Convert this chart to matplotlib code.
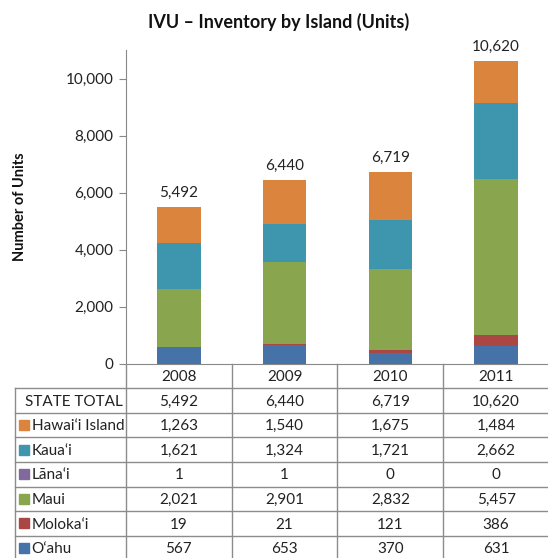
import matplotlib
matplotlib.use("Agg")
import matplotlib.pyplot as plt

plt.rcParams['font.family'] = ['Lato', 'DejaVu Sans']

years = ['2008', '2009', '2010', '2011']

# stack order, bottom to top
islands = ['O‘ahu', 'Moloka‘i', 'Maui', 'Lāna‘i', 'Kaua‘i', 'Hawai‘i Island']
oahu = [567, 653, 370, 631]
molokai = [19, 21, 121, 386]
maui = [2021, 2901, 2832, 5457]
lanai = [1, 1, 0, 0]
kauai = [1621, 1324, 1721, 2662]
hawaii = [1263, 1540, 1675, 1484]
series = [oahu, molokai, maui, lanai, kauai, hawaii]
colors = ['#4572A7', '#AA4643', '#89A54E', '#80699B', '#3D96AE', '#DB843D']

totals = [sum(v) for v in zip(*series)]

W, H = 548, 558
fig = plt.figure(figsize=(W / 100, H / 100), dpi=100)

# pixel helpers
x0, x1 = 126, 549
y_zero, y_top = 363.5, 50
ax = fig.add_axes([x0 / W, (H - y_zero) / H, (x1 - x0) / W, (y_zero - y_top) / H])

xpos = [i + 0.5 for i in range(len(years))]
bottom = [0] * len(years)
for vals, c in zip(series, colors):
    ax.bar(xpos, vals, width=0.41, bottom=bottom, color=c, linewidth=0)
    bottom = [b + v for b, v in zip(bottom, vals)]

for x, t in zip(xpos, totals):
    ax.annotate(f'{t:,}', (x, t), xytext=(0, 5), textcoords='offset points',
                ha='center', va='bottom', fontsize=11, color='#222222')

ax.set_xlim(0, 4)
ax.set_ylim(0, 11000)
ax.set_yticks(range(0, 10001, 2000))
ax.set_yticklabels([f'{v:,}' for v in range(0, 10001, 2000)])
ax.set_xticks([])
ax.tick_params(axis='y', length=5, width=0.8, color='#888888', labelsize=11,
               labelcolor='#222222', pad=4)
for s in ['top', 'right']:
    ax.spines[s].set_visible(False)
ax.spines['left'].set_color('#888888')
ax.spines['bottom'].set_color('#888888')

fig.text(279 / W, 1 - 22 / H, 'IVU – Inventory by Island (Units)', ha='center', va='center',
         fontsize=13, fontweight='bold', color='#111111')
fig.text(20 / W, 1 - 207 / H, 'Number of Units', rotation=90, ha='center', va='center',
         fontsize=10.5, fontweight='bold', color='#111111')

# data table underneath
row_h = 24.6
n_rows = 8
tx0 = 14.7
unit = (x1 - x0) / 4
left = (tx0 - x0) / unit
tax = fig.add_axes([tx0 / W, (H - y_zero - n_rows * row_h) / H, (x1 - tx0) / W, n_rows * row_h / H])
tax.set_xlim(left, 4)
tax.set_ylim(n_rows, 0)
tax.axis('off')

gray = '#8c8c8c'
for i in range(5):
    tax.plot([i, i], [0, n_rows], color=gray, lw=1, clip_on=False)
tax.plot([left, left], [1, n_rows], color=gray, lw=1, clip_on=False)
for r in range(1, n_rows + 1):
    tax.plot([left, 4], [r, r], color=gray, lw=1, clip_on=False)

for j, y in enumerate(years):
    tax.text(j + 0.5, 0.55, y, ha='center', va='center', fontsize=11, color='#222222')

tax.text(-0.03, 1.55, 'STATE TOTAL', ha='right', va='center', fontsize=11, color='#222222')
for j, t in enumerate(totals):
    tax.text(j + 0.5, 1.55, f'{t:,}', ha='center', va='center', fontsize=11, color='#222222')

# table rows go top to bottom: reverse of stack order
for k, (name, vals, c) in enumerate(zip(islands[::-1], series[::-1], colors[::-1])):
    r = k + 2
    tax.plot([left + 0.085], [r + 0.5], marker='s', markersize=7.3, color=c, clip_on=False)
    tax.text(left + 0.16, r + 0.55, name, ha='left', va='center', fontsize=11, color='#222222')
    for j, v in enumerate(vals):
        tax.text(j + 0.5, r + 0.55, f'{v:,}', ha='center', va='center', fontsize=11, color='#222222')

fig.savefig('out.png', dpi=100)
